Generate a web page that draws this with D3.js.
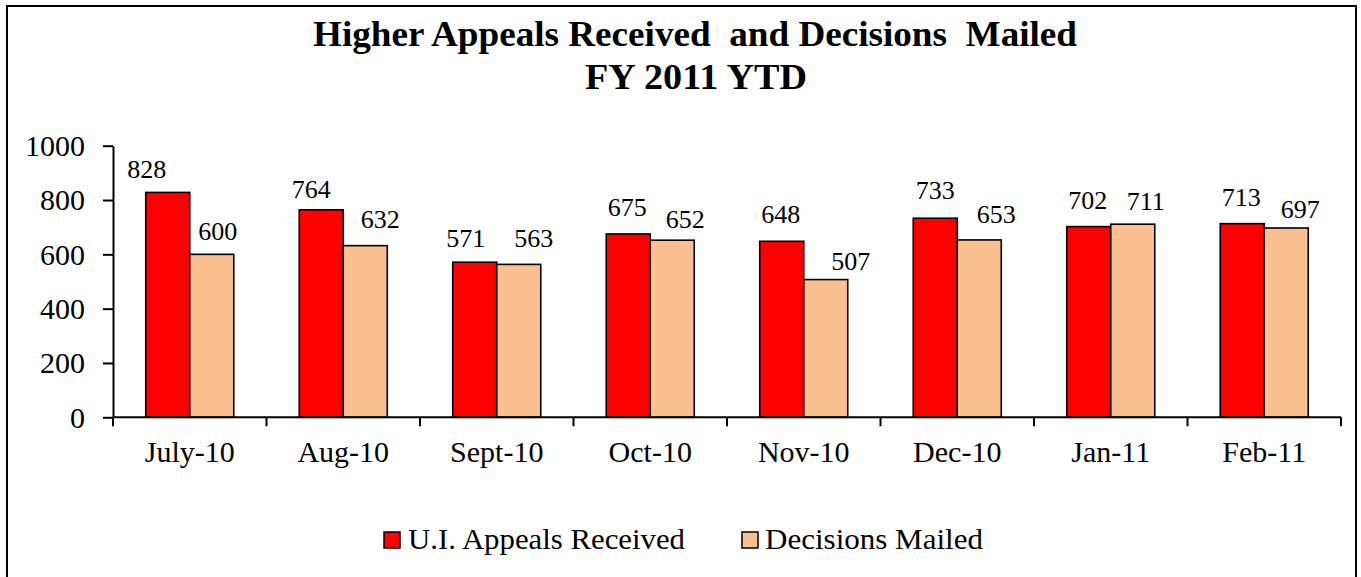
<!DOCTYPE html>
<html>
<head>
<meta charset="utf-8">
<script src="https://cdn.jsdelivr.net/npm/d3@7"></script>
<style>
  body { margin: 0; background: #fff; }
  svg { display: block; }
  svg text { font-family: "Liberation Serif", "Times New Roman", Times, serif; fill: #000; }
</style>
</head>
<body>
<div id="chart"></div>
<script>
// data
const months = ['July-10', 'Aug-10', 'Sept-10', 'Oct-10', 'Nov-10', 'Dec-10', 'Jan-11', 'Feb-11'];
const appealsReceived = [828, 764, 571, 675, 648, 733, 702, 713];
const decisionsMailed = [600, 632, 563, 652, 507, 653, 711, 697];
const seriesNames = ['U.I. Appeals Received', 'Decisions Mailed'];
const yTicks = [0, 200, 400, 600, 800, 1000];

// label placement in the original was hand-nudged: [dx from bar centre, gap above bar]
const receivedNudge = [[-21, 14], [-10, 12], [-9, 15], [-1, 18], [-1, 18], [0, 19], [-1, 18], [-1, 18]];
const mailedNudge = [[6, 14], [15, 18], [15, 17], [13, 12], [25, 10], [17, 17], [13, 14], [14, 10]];

const dims = { width: 1361, height: 577 };
const plot = { left: 113, right: 1341, top: 145.7, bottom: 417.3 };
const colors = ['#ff0000', '#fac090'];

const svg = d3.select('div#chart').append('svg')
  .attr('width', dims.width)
  .attr('height', dims.height)
  .attr('viewBox', [0, 0, dims.width, dims.height]);

// outer chart border (bottom edge runs off the picture)
svg.append('rect')
  .attr('x', 7).attr('y', 6)
  .attr('width', 1349).attr('height', 620)
  .attr('fill', 'none')
  .attr('stroke', '#000')
  .attr('stroke-width', 2);

// title
const title = svg.append('g').attr('font-weight', 'bold').attr('font-size', 36).attr('text-anchor', 'middle');
title.append('text')
  .attr('x', 695).attr('y', 46)
  .attr('textLength', 764).attr('lengthAdjust', 'spacingAndGlyphs')
  .style('white-space', 'pre')
  .text('Higher Appeals Received  and Decisions  Mailed');
title.append('text')
  .attr('x', 696).attr('y', 89)
  .attr('textLength', 222).attr('lengthAdjust', 'spacingAndGlyphs')
  .text('FY 2011 YTD');

const yScale = d3.scaleLinear().domain([0, 1000]).range([plot.bottom, plot.top]);
const x0 = d3.scaleBand().domain(months).range([plot.left, plot.right]).padding(0);
const x1 = d3.scaleBand().domain(seriesNames).range([0, x0.bandwidth()]).paddingInner(0).paddingOuter(0.744);

const rows = months.map((m, i) => ({ month: m, values: [appealsReceived[i], decisionsMailed[i]], i }));

// bars
const groups = svg.append('g').selectAll('g.bars')
  .data(rows)
  .join('g')
  .attr('class', 'bars')
  .attr('transform', d => `translate(${x0(d.month)},0)`);

groups.selectAll('rect')
  .data(d => d.values.map((v, s) => ({ v, s, i: d.i })))
  .join('rect')
  .attr('x', d => x1(seriesNames[d.s]))
  .attr('y', d => yScale(d.v))
  .attr('width', x1.bandwidth())
  .attr('height', d => yScale(0) - yScale(d.v))
  .attr('fill', d => colors[d.s])
  .attr('stroke', '#000')
  .attr('stroke-width', 1.6);

groups.selectAll('text')
  .data(d => d.values.map((v, s) => ({ v, s, i: d.i })))
  .join('text')
  .attr('font-size', 26)
  .attr('text-anchor', 'middle')
  .attr('x', d => {
    const n = d.s === 0 ? receivedNudge[d.i] : mailedNudge[d.i];
    return x1(seriesNames[d.s]) + x1.bandwidth() / 2 + n[0];
  })
  .attr('y', d => {
    const n = d.s === 0 ? receivedNudge[d.i] : mailedNudge[d.i];
    return yScale(d.v) - n[1];
  })
  .text(d => d.v);

// y axis
const yAxis = svg.append('g')
  .attr('transform', `translate(${plot.left},0)`)
  .call(d3.axisLeft(yScale).tickValues(yTicks).tickFormat(d3.format('d'))
    .tickSize(10).tickSizeOuter(0).tickPadding(18));
yAxis.attr('font-family', null).attr('font-size', null);
yAxis.selectAll('text').attr('font-size', 30).attr('dy', '0.33em');
yAxis.selectAll('line, path').attr('stroke', '#000').attr('stroke-width', 2);

// x axis: labels centred, ticks between categories
const xAxis = svg.append('g')
  .attr('transform', `translate(0,${plot.bottom})`)
  .call(d3.axisBottom(x0).tickSize(0).tickPadding(45));
xAxis.attr('font-family', null).attr('font-size', null);
xAxis.select('path').remove();
xAxis.selectAll('text').attr('font-size', 30).attr('dy', 0);

const bounds = months.map(m => x0(m)).concat([x0.range()[1]]);
svg.append('line')
  .attr('x1', plot.left).attr('x2', plot.right)
  .attr('y1', plot.bottom).attr('y2', plot.bottom)
  .attr('stroke', '#000').attr('stroke-width', 2);
svg.append('g').selectAll('line')
  .data(bounds)
  .join('line')
  .attr('x1', d => d).attr('x2', d => d)
  .attr('y1', plot.bottom).attr('y2', plot.bottom + 9)
  .attr('stroke', '#000').attr('stroke-width', 2);

// legend
const legendPos = [{ box: 384, text: 408, len: 277 }, { box: 742, text: 765, len: 218 }];
const legend = svg.append('g').selectAll('g')
  .data(seriesNames)
  .join('g');
legend.append('rect')
  .attr('x', (d, i) => legendPos[i].box)
  .attr('y', 532)
  .attr('width', 16).attr('height', 16)
  .attr('fill', (d, i) => colors[i])
  .attr('stroke', '#000').attr('stroke-width', 1.5);
legend.append('text')
  .attr('x', (d, i) => legendPos[i].text)
  .attr('y', 549)
  .attr('font-size', 30)
  .attr('textLength', (d, i) => legendPos[i].len)
  .attr('lengthAdjust', 'spacingAndGlyphs')
  .text(d => d);
</script>
</body>
</html>
